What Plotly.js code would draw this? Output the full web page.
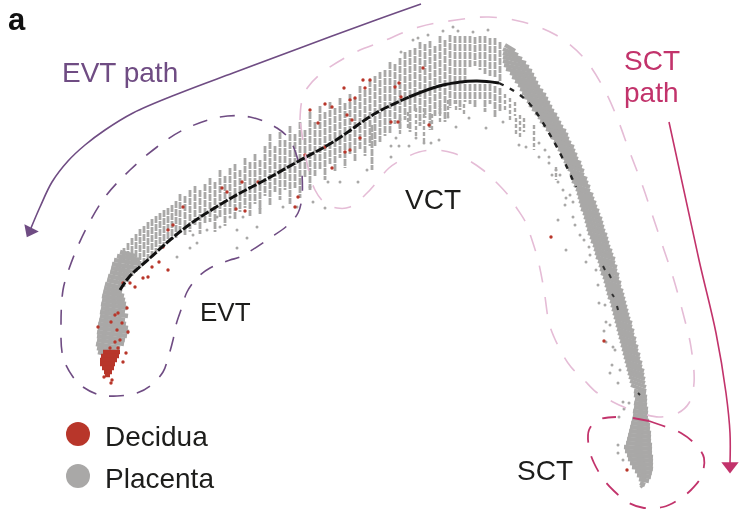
<!DOCTYPE html>
<html>
<head>
<meta charset="utf-8">
<script src="https://cdn.plot.ly/plotly-3.0.1.min.js"></script>
<style>html,body{margin:0;padding:0;background:#fff}#chart{width:753px;height:520px;filter:blur(0.35px)}</style>
</head>
<body>
<div id="chart"></div>
<script>
// Placenta cells: vertical streaks through the arch
const archX = [120,124,128,132,136,140,144,148,152,156,160,164,168,172,176,180,185,190,195,200,205,210,215,220,225,230,235,240,245,250,255,260,265,270,275,280,285,290,295,300,305,310,315,320,325,330,335,340,345,350,355,360,365,370,372,375,380,385,390,395,400,405,410,415,420,425,430,435,440,445,450,455,460,465,470,475,480,485,490,495,500,470,475,480,485,490,495,500];
const archTop = [255,248,243,238,234,229,226,222,219,216,213,210,208,205,201,194,196,190,186,190,184,178,182,170,176,168,164,170,158,162,154,160,146,134,146,132,140,126,134,122,130,112,122,106,112,102,108,98,103,94,98,86,90,80,125,76,72,70,62,64,58,52,50,48,42,44,41,46,36,40,35,36,36,36,36,37,36,36,38,38,42,84,84,84,84,84,86,88];
const archBottom = [292,288,282,276,272,268,262,260,256,252,248,246,242,240,238,234,236,232,226,234,224,222,232,218,226,214,220,212,208,216,204,214,196,206,192,200,190,204,188,198,178,190,176,170,180,164,172,158,168,154,162,150,156,146,170,146,142,136,134,124,130,120,132,112,126,118,130,116,114,122,108,104,110,102,68,66,70,74,76,78,82,104,108,100,112,104,118,112];
// Placenta cells: oblique rows through the right limb
const limbY = [48,52,56,60,64,68,72,76,80,84,88,92,96,100,104,108,112,116,120,124,128,132,136,140,144,148,152,156,160,164,168,172,176,180,184,188,192,196,200,204,208,212,216,220,224,228,232,236,240,244,248,252,256,260,264,268,272,276,280,284,288,292,296,300,304,308,312,316,320,324,328,332,336,340,344,348,352,356,360,364,368,372,376,380,384,388];
const limbLeft = [505,503,503,503,503,504,506,510,512,515,518,520,522,524,527,529,532,535,538,540,543,546,549,551,554,556,558,560,562,564,566,568,570,571,572,574,576,577,578,579,580,581,583,584,585,586,587,588,590,591,593,594,595,596,598,599,600,601,603,604,605,606,607,608,610,611,612,613,614,615,616,617,618,619,620,621,622,623,624,625,626,627,628,629,630,631];
const limbRight = [515,518,522,526,529,532,534,536,538,540,543,546,548,550,552,554,557,559,561,563,566,568,569,571,574,575,577,578,581,582,584,584,587,588,590,590,593,594,596,597,599,600,602,603,604,605,607,608,609,610,612,613,615,615,617,617,619,619,621,621,623,624,625,626,627,628,629,630,632,632,634,634,636,636,638,638,640,640,642,642,644,644,645,645,646,646];
// Placenta cells: rows at the SCT end and in the EVT tail
const endY = [392,396,400,404,408,412,416,420,424,428,432,436,440,444,448,452,456,460,464,468,472,476,480,484,486];
const endLeft = [634,634,635,634,634,633,633,632,631,630,629,628,627,626,624,625,627,628,630,632,635,637,639,640,641];
const endRight = [646,647,647,647,648,648,648,649,650,650,651,651,651,652,652,652,653,653,653,653,652,651,649,645,643];
const tailY = [254,258,262,266,270,274,278,282,286,290,294,298,302,306,310,314,318,322,326,330,334,338,342,346,350,354];
const tailLeft = [120,117,114,112,111,110,108,107,105,104,103,102,102,101,101,100,100,99,98,98,97,97,97,96,97,98];
const tailRight = [135,140,140,136,133,130,128,125,122,122,124,125,126,127,125,128,125,126,128,129,127,125,124,120,118,116];
// Placenta cells: sparser lower streaks
const sparseX = [400,408,416,424,432,440,448,456,464,505,510,515,516,520,524,534,556];
const sparseTop = [118,112,108,108,114,106,100,100,104,94,98,102,118,115,118,125,167];
const sparseBottom = [134,128,136,142,130,124,118,110,116,112,120,116,136,137,132,150,180];
// Placenta cells: isolated points
const strayX = [193,197,190,207,220,237,257,247,237,177,217,230,243,260,283,297,313,325,328,340,358,310,367,391,399,409,391,396,416,424,431,439,456,448,469,486,503,519,526,539,539,549,549,556,558,563,566,573,558,573,566,584,589,453,458,443,473,488,428,418,413,401,596,599,606,604,606,613,612,610,618,623,629,624,619,618,618,623,545,552,560,565,570,575,580,590,586,598,605,610,615,620];
const strayY = [235,243,248,230,227,230,227,238,248,257,217,217,217,208,207,207,202,208,182,182,182,187,170,157,146,146,146,138,138,143,143,140,127,117,118,128,122,145,147,143,157,157,163,170,182,190,198,202,220,217,250,240,247,27,31,31,32,30,35,38,40,52,270,303,322,331,342,347,365,373,383,402,403,409,417,445,453,460,150,175,175,205,195,225,235,255,262,285,305,325,350,370];
// Decidua cells
const blobY = [352,356,360,364,368,372,375];
const blobLeft = [103,101,100,100,102,104,105];
const blobRight = [120,119,117,115,114,112,110];
const deciduaX = [344,363,365,370,310,332,325,350,355,347,352,318,360,350,345,325,332,242,258,222,227,236,245,183,298,295,168,163,173,305,423,399,395,401,391,398,429,551,604,627,123,135,130,148,143,168,159,152,127,115,118,111,122,98,128,117,120,115,110,118,126,123,104,112,111,115];
const deciduaY = [88,80,88,80,110,107,104,100,98,115,120,123,138,150,152,147,168,182,182,188,192,209,211,207,197,207,230,247,225,155,68,83,87,97,122,122,125,237,341,470,283,287,283,277,278,270,262,267,308,315,313,322,323,327,332,330,340,342,348,348,353,362,377,380,383,357];
// Pseudotime trajectory
const trajectoryLeftX = [120,130,150,170,193,233,265,297,333,376,409];
const trajectoryLeftY = [290,276,258,240,222,197,180,162,142,113,97];
const trajectoryPeakX = [409,443,476,499];
const trajectoryPeakY = [97,85,81,83];
const trajectoryRightX = [499,526,553,576];
const trajectoryRightY = [83,100,140,187];
const trajectoryTraceX = [603,605,609,611,612,614,617,618,638,640];
const trajectoryTraceY = [266,270,274,278,294,297,306,310,393,395];
// Region outlines and path arrows
const evtOutlineX = [298,290,277,250,220,183,157,130,105,87,75,67,63,61,63,73,83,100,117,137,150,163,168,173,176,182,187,198,210,230,240,270,288,298,302,302];
const evtOutlineY = [160,140,128,117,117,130,147,170,197,227,253,275,290,323,357,377,387,395,396,393,386,372,358,340,325,307,292,277,268,260,257,238,225,213,197,173];
const vctUpperX = [300,302,308,323,350,365,381,419,456,489,523,556,583,603,616,629,643,653,664,673,684,691,694,689,678,659,644];
const vctUpperY = [120,100,87,72,55,48,42,27,20,17,22,35,57,87,115,150,187,217,250,277,317,347,383,403,413,417,414];
const vctLowerX = [626,613,596,584,571,563,554,549,544,538,531,526,516,508,494,483,468,453,436,419,403,389,376,367,350,337,325,315,307,300];
const vctLowerY = [408,402,392,380,367,355,337,323,290,260,237,223,207,195,180,170,160,153,150,152,159,168,183,193,207,208,203,190,163,120];
const sctOutlineX = [649,666,681,696,704,701,691,678,663,644,629,614,604,594,589,589,598,616];
const sctOutlineY = [421,427,433,445,458,477,490,500,507,508,503,491,480,463,448,430,420,417];
const sctBoundaryX = [633,649];
const sctBoundaryY = [418,421];
const evtPathX = [421,376,300,233,180,133,105,85,68,52,40,31];
const evtPathY = [4,20,48,73,93,113,130,145,161,182,207,228];
const sctPathX = [669,699,716,726,730,730];
const sctPathY = [122,260,333,393,433,464];
const evtHeadX = [30]; const evtHeadY = [231];
const sctHeadX = [730]; const sctHeadY = [466];
// Legend and labels
const legendNames = ["Decidua","Placenta"];
const legendX = [78,78];
const legendY = [434,476];

const GREY = "#a9a8a7", RED = "#b8362a", PURPLE = "#6f4c83", PINK = "#e5bcd6", CRIMSON = "#c2336b", INK = "#1d1d1b";

function vSegments(xs, tops, bots){
  const x=[],y=[];
  xs.forEach((v,i)=>{x.push(v,v,null);y.push(tops[i],bots[i],null);});
  return {x,y};
}
function hSegments(ys, lefts, rights, slant){
  const x=[],y=[];
  ys.forEach((v,i)=>{x.push(lefts[i],rights[i],null);y.push(v-slant,v+slant,null);});
  return {x,y};
}
function line(x,y,color,width,dash,shape){
  return {type:"scatter",mode:"lines",x,y,hoverinfo:"skip",showlegend:false,
    line:{color,width,dash:dash||"solid",shape:shape||"linear",smoothing:1}};
}
function dots(x,y,color,size,name){
  return {type:"scatter",mode:"markers",x,y,name,hoverinfo:"skip",showlegend:false,
    marker:{color,size,line:{width:0}}};
}
const arch = vSegments(archX,archTop,archBottom);
const limb = hSegments(limbY,limbLeft,limbRight,3);
const end = hSegments(endY,endLeft,endRight,1);
const tail = hSegments(tailY,tailLeft,tailRight,2);
const sparse = vSegments(sparseX,sparseTop,sparseBottom);
const blob = hSegments(blobY,blobLeft,blobRight,0);
const traceX=[],traceY=[];
trajectoryTraceX.forEach((v,i)=>{traceX.push(v);traceY.push(trajectoryTraceY[i]);if(i%2)
{traceX.push(null);traceY.push(null);}});

const data = [
  line(arch.x,arch.y,GREY,2.8,"7px,1px"),
  line(limb.x,limb.y,GREY,4),
  line(end.x,end.y,GREY,4.4),
  line(tail.x,tail.y,GREY,4.4),
  line(sparse.x,sparse.y,GREY,2.4,"4px,2px"),
  dots(strayX,strayY,GREY,3,"Placenta"),
  line(blob.x,blob.y,RED,4.5),
  dots(deciduaX,deciduaY,RED,3.4,"Decidua"),
  line(trajectoryLeftX,trajectoryLeftY,"#111",3,"9px,2px","spline"),
  line(trajectoryPeakX,trajectoryPeakY,"#111",3,"solid","spline"),
  line(trajectoryRightX,trajectoryRightY,"#222",2.4,"5px,7px","spline"),
  line(traceX,traceY,"#333",2),
  line(evtOutlineX,evtOutlineY,PURPLE,1.6,"15px,13px","spline"),
  line(vctUpperX,vctUpperY,PINK,1.6,"17px,15px","spline"),
  line(vctLowerX,vctLowerY,PINK,1.6,"17px,15px","spline"),
  line(sctOutlineX,sctOutlineY,CRIMSON,1.8,"17px,14px","spline"),
  line(sctBoundaryX,sctBoundaryY,CRIMSON,2),
  line(evtPathX,evtPathY,PURPLE,1.6,"solid","spline"),
  line(sctPathX,sctPathY,CRIMSON,1.6,"solid","spline"),
  {type:"scatter",mode:"markers",x:evtHeadX,y:evtHeadY,hoverinfo:"skip",showlegend:false,
    marker:{symbol:"triangle-down",size:14,color:PURPLE,angle:27,line:{width:0}}},
  {type:"scatter",mode:"markers",x:sctHeadX,y:sctHeadY,hoverinfo:"skip",showlegend:false,
    marker:{symbol:"triangle-down",size:15,color:CRIMSON,line:{width:0}}},
  {type:"scatter",mode:"markers",x:[legendX[0]],y:[legendY[0]],hoverinfo:"skip",showlegend:false,
    marker:{size:24,color:RED,line:{width:0}}},
  {type:"scatter",mode:"markers",x:[legendX[1]],y:[legendY[1]],hoverinfo:"skip",showlegend:false,
    marker:{size:24,color:GREY,line:{width:0}}}
];
function label(text,x,y,size,color,align){
  return {text,x,y,xref:"x",yref:"y",showarrow:false,xanchor:"left",yanchor:"middle",align:align||"left",
    font:{family:"Liberation Sans, Arial, sans-serif",size,color}};
}
const layout = {
  width:753,height:520,margin:{l:0,r:0,t:0,b:0},paper_bgcolor:"#fff",plot_bgcolor:"#fff",showlegend:false,
  xaxis:{range:[0,753],visible:false,fixedrange:true},
  yaxis:{range:[520,0],visible:false,fixedrange:true},
  annotations:[
    label("<b>a</b>",6,19,31,"#111"),
    label("EVT path",60,72,28,PURPLE),
    label("SCT",622,60,28,CRIMSON),
    label("path",622,92,28,CRIMSON),
    label("VCT",403,199,28,INK),
    label("EVT",198,312,26,INK),
    label("SCT",515,470,28,INK),
    label(legendNames[0],103,436,28,INK),
    label(legendNames[1],103,478,28,INK)
  ]
};
Plotly.newPlot("chart",data,layout,{staticPlot:true,displayModeBar:false});
</script>
</body>
</html>
